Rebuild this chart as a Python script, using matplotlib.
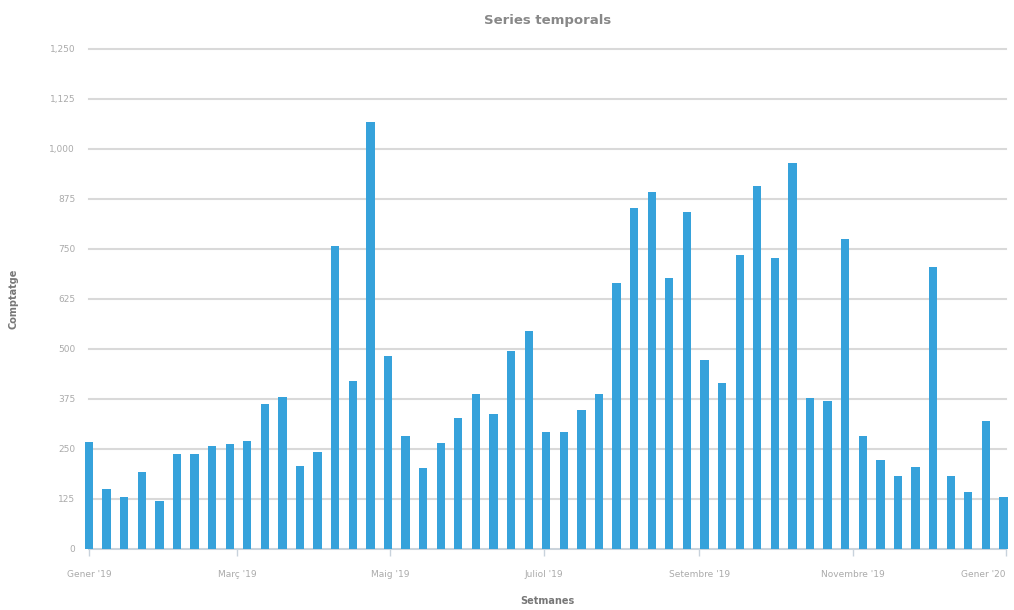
import numpy as np
import pandas as pd
import matplotlib
matplotlib.use('Agg')
import matplotlib.pyplot as plt
from matplotlib.ticker import FuncFormatter

# weekly counts, 2019
week_start = '2019-01-01'
counts = [268, 150, 130, 192, 121, 237, 237, 257, 262, 270,
          362, 381, 208, 242, 758, 421, 1067, 482, 282, 202,
          264, 328, 387, 337, 495, 546, 292, 292, 347, 387,
          665, 852, 892, 677, 842, 472, 414, 735, 907, 727,
          966, 378, 369, 775, 282, 222, 182, 206, 706, 182,
          143, 321, 131]

tick_dates = ['2019-01-01', '2019-03-01', '2019-05-01', '2019-07-01',
              '2019-09-01', '2019-11-01', '2020-01-01']
tick_labels = ["Gener '19", "Març '19", "Maig '19", "Juliol '19",
               "Setembre '19", "Novembre '19", "Gener '20"]
y_ticks = [0, 125, 250, 375, 500, 625, 750, 875, 1000, 1125, 1250]

dates = pd.date_range(week_start, periods=len(counts), freq='7D')

fig = plt.figure(figsize=(10.14, 6.10), dpi=100)
ax = fig.add_axes([0.0878, 0.1, 0.9043, 0.8197])

ax.bar(dates, counts, width=3.3, color='#36a2db', zorder=3, clip_on=False)

ax.set_ylim(0, 1250)
ax.set_xlim(pd.Timestamp('2019-01-01'), pd.Timestamp('2020-01-01'))
ax.set_yticks(y_ticks)
ax.yaxis.set_major_formatter(FuncFormatter(lambda v, p: f'{int(v):,}'))
ax.grid(axis='y', color='#d9d9d9', linewidth=1.5, zorder=0)
for gl in ax.get_ygridlines():
    gl.set_clip_on(False)
ax.set_xticks(pd.to_datetime(tick_dates))
ax.set_xticklabels(tick_labels)
# last label would run off the right edge
ax.get_xticklabels()[-1].set_horizontalalignment('right')
ax.get_xticklabels()[-1].set_x(0)

for s in ['top', 'right', 'left']:
    ax.spines[s].set_visible(False)
ax.spines['bottom'].set_color('#c8d2dc')
ax.spines['bottom'].set_linewidth(1.2)
ax.tick_params(axis='y', length=0, pad=10, labelsize=6.5, labelcolor='#aaaaaa')
ax.tick_params(axis='x', length=5, width=1, color='#c8d2dc', pad=10,
               labelsize=6.5, labelcolor='#aaaaaa')

ax.set_title('Series temporals', fontsize=9.5, fontweight='bold', color='#888888', pad=18)
ax.set_xlabel('Setmanes', fontsize=7, fontweight='bold', color='#777777', labelpad=12)
ax.set_ylabel('Comptatge', fontsize=7, fontweight='bold', color='#777777', labelpad=22)

fig.savefig('out.png', dpi=100)
